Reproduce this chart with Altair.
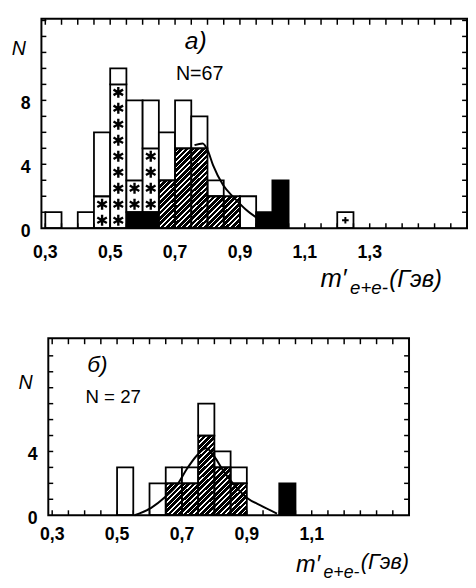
import altair as alt
import pandas as pd

BIN_WIDTH = 0.05
FONT = "Liberation Sans"

# ---------------- panel a) ----------------
A_BINS    = [0.30, 0.35, 0.40, 0.45, 0.50, 0.55, 0.60, 0.65, 0.70, 0.75,
             0.80, 0.85, 0.90, 0.95, 1.00, 1.05, 1.10, 1.15, 1.20]
A_SOLID   = [0, 0, 0, 0, 0, 1, 1, 0, 0, 0, 0, 0, 0, 1, 3, 0, 0, 0, 0]
A_HATCHED = [0, 0, 0, 0, 0, 0, 0, 3, 5, 5, 2, 2, 0, 0, 0, 0, 0, 0, 0]
A_STARS   = [0, 0, 0, 2, 9, 2, 4, 0, 0, 0, 0, 0, 0, 0, 0, 0, 0, 0, 0]
A_OPEN    = [1, 0, 1, 4, 1, 5, 3, 3, 3, 2, 1, 0, 2, 0, 0, 0, 0, 0, 0]
A_CROSS   = [0, 0, 0, 0, 0, 0, 0, 0, 0, 0, 0, 0, 0, 0, 0, 0, 0, 0, 1]
A_CURVE_X = [0.76, 0.785, 0.80, 0.817, 0.848, 0.883, 0.918, 0.954]
A_CURVE_Y = [5.2, 5.3, 4.9, 3.95, 2.7, 1.88, 1.17, 0.62]
A_XTICK_VALUES = [0.3, 0.5, 0.7, 0.9, 1.1, 1.3]
A_XTICK_LABELS = ["0,3", "0,5", "0,7", "0,9", "1,1", "1,3"]
A_YTICK_VALUES = [0, 4, 8]
A_YTICK_LABELS = ["0", "4", "8"]
A_MINOR_X = [0.30, 0.35, 0.40, 0.45, 0.50, 0.55, 0.60, 0.65, 0.70, 0.75, 0.80, 0.85, 0.90,
             0.95, 1.00, 1.05, 1.10, 1.15, 1.20, 1.25, 1.30, 1.35, 1.40, 1.45, 1.50, 1.55]
A_MINOR_Y = [1, 2, 3, 4, 5, 6, 7, 8, 9, 10, 11, 12, 13]

# ---------------- panel б) ----------------
B_BINS    = [0.50, 0.55, 0.60, 0.65, 0.70, 0.75, 0.80, 0.85, 0.90, 0.95, 1.00]
B_SOLID   = [0, 0, 0, 0, 0, 0, 0, 0, 0, 0, 2]
B_HATCHED = [0, 0, 0, 2, 2, 5, 3, 2, 0, 0, 0]
B_STARS   = [0, 0, 0, 0, 0, 0, 0, 0, 0, 0, 0]
B_OPEN    = [3, 0, 2, 1, 1, 2, 1, 1, 0, 0, 0]
B_CROSS   = [0, 0, 0, 0, 0, 0, 0, 0, 0, 0, 0]
B_CURVE_X = [0.554, 0.604, 0.65, 0.685, 0.715, 0.746, 0.775, 0.801, 0.826, 0.857, 0.902, 0.948, 0.993]
B_CURVE_Y = [0.0, 0.45, 1.17, 1.9, 2.9, 3.75, 4.2, 3.65, 2.83, 2.0, 1.07, 0.56, 0.1]
B_XTICK_VALUES = [0.3, 0.5, 0.7, 0.9, 1.1]
B_XTICK_LABELS = ["0,3", "0,5", "0,7", "0,9", "1,1"]
B_YTICK_VALUES = [0, 4]
B_YTICK_LABELS = ["0", "4"]
B_MINOR_X = [0.30, 0.35, 0.40, 0.45, 0.50, 0.55, 0.60, 0.65, 0.70, 0.75, 0.80, 0.85, 0.90,
             0.95, 1.00, 1.05, 1.10, 1.15, 1.20, 1.25, 1.30, 1.35]
B_MINOR_Y = [1, 2, 3, 4, 5, 6, 7, 8, 9, 10]

# hatch pattern as a striped linear gradient
_stops = []
_N = 30
for i in range(_N):
    a, b, c = i / _N, (i + 0.7) / _N, (i + 1) / _N
    _stops += [alt.GradientStop(offset=a, color="#000"), alt.GradientStop(offset=b, color="#000"),
               alt.GradientStop(offset=b, color="#fff"), alt.GradientStop(offset=c, color="#fff")]
HATCH = alt.LinearGradient(gradient="linear", stops=_stops, x1=0, y1=0, x2=1, y2=1)

STAR = "M0,-1L0,1M-0.87,-0.5L0.87,0.5M-0.87,0.5L0.87,-0.5"
PLUS = "M-1,0L1,0M0,-1L0,1"


def txt(s, x, y, size, italic=False, align="center", baseline="middle", weight="normal"):
    return alt.Chart(pd.DataFrame({"t": [s]})).mark_text(
        font=FONT, fontSize=size, fontStyle="italic" if italic else "normal",
        fontWeight=weight, align=align, baseline=baseline, color="black"
    ).encode(x=alt.value(x), y=alt.value(y), text="t:N")


def panel(bins, solid, hatched, stars, open_, cross, cx, cy, xdom, ydom, xr, yr,
          xt_vals, xt_labs, yt_vals, yt_labs, minor_x, minor_y, xlab_off, annotations):
    xs = alt.Scale(domain=xdom, range=xr, nice=False, zero=False)
    ys = alt.Scale(domain=ydom, range=yr, nice=False, zero=False)
    X0, X1 = xr
    Y0, Y1 = yr
    ex = alt.X("x:Q", scale=xs, axis=None)
    ey = alt.Y("y:Q", scale=ys, axis=None)
    ex2 = alt.X2("x2")
    ey2 = alt.Y2("y2")

    rows, star_rows, cross_rows = [], [], []
    for i, b in enumerate(bins):
        base = 0
        for cat, counts in (("solid", solid), ("hatched", hatched), ("stars", stars),
                            ("open", open_), ("cross", cross)):
            c = counts[i]
            if c:
                rows.append({"x": b, "x2": round(b + BIN_WIDTH, 2), "y": base, "y2": base + c, "cat": cat})
                if cat == "stars":
                    for k in range(c):
                        star_rows.append({"x": b + BIN_WIDTH / 2, "y": base + k + 0.5})
                if cat == "cross":
                    cross_rows.append({"x": b + BIN_WIDTH / 2, "y": base + c / 2})
                base += c
    seg = pd.DataFrame(rows)
    hat = seg[seg.cat == "hatched"].sort_values("x")
    area_df = pd.concat([hat[["x", "y", "y2"]],
                         pd.DataFrame([{"x": hat.x2.iloc[-1], "y": hat.y.iloc[-1], "y2": hat.y2.iloc[-1]}])])

    layers = []
    layers.append(alt.Chart(area_df).mark_area(interpolate="step-after", fill=HATCH, strokeWidth=0)
                  .encode(x=ex, y=ey, y2=ey2))
    layers.append(alt.Chart(seg[seg.cat.isin(["open", "stars", "cross"])])
                  .mark_rect(fill="white", stroke="black", strokeWidth=1.8)
                  .encode(x=ex, x2=ex2, y=ey, y2=ey2))
    layers.append(alt.Chart(seg[seg.cat == "solid"])
                  .mark_rect(fill="black", stroke="black", strokeWidth=1.8)
                  .encode(x=ex, x2=ex2, y=ey, y2=ey2))
    layers.append(alt.Chart(hat).mark_rect(fill="white", fillOpacity=0, stroke="black", strokeWidth=1.8)
                  .encode(x=ex, x2=ex2, y=ey, y2=ey2))
    if star_rows:
        layers.append(alt.Chart(pd.DataFrame(star_rows))
                      .mark_point(shape=STAR, filled=False, stroke="black", strokeWidth=2.4, size=125, opacity=1)
                      .encode(x=ex, y=ey))
    if cross_rows:
        layers.append(alt.Chart(pd.DataFrame(cross_rows))
                      .mark_point(shape=PLUS, filled=False, stroke="black", strokeWidth=2, size=45, opacity=1)
                      .encode(x=ex, y=ey))
    layers.append(alt.Chart(pd.DataFrame({"x": cx, "y": cy}))
                  .mark_line(interpolate="monotone", color="black", strokeWidth=2)
                  .encode(x=ex, y=ey))
    # frame
    layers.append(alt.Chart(pd.DataFrame([{"x": xdom[0], "x2": xdom[1], "y": ydom[0], "y2": ydom[1]}]))
                  .mark_rect(fill="white", fillOpacity=0, stroke="black", strokeWidth=2)
                  .encode(x=ex, x2=ex2, y=ey, y2=ey2))
    # inward ticks
    mx = pd.DataFrame({"x": minor_x})
    my = pd.DataFrame({"y": minor_y})
    layers.append(alt.Chart(mx).mark_rule(color="black", strokeWidth=1.5)
                  .encode(x=ex, y=alt.value(Y0), y2=alt.value(Y0 - 5)))
    layers.append(alt.Chart(mx).mark_rule(color="black", strokeWidth=1.5)
                  .encode(x=ex, y=alt.value(Y1), y2=alt.value(Y1 + 6)))
    layers.append(alt.Chart(my).mark_rule(color="black", strokeWidth=1.5)
                  .encode(y=ey, x=alt.value(X0), x2=alt.value(X0 + 5)))
    layers.append(alt.Chart(my).mark_rule(color="black", strokeWidth=1.5)
                  .encode(y=ey, x=alt.value(X1), x2=alt.value(X1 - 5)))
    # tick labels
    layers.append(alt.Chart(pd.DataFrame({"x": xt_vals, "t": xt_labs}))
                  .mark_text(font=FONT, fontSize=18, fontWeight="bold", baseline="top", color="black")
                  .encode(x=ex, y=alt.value(Y0 + xlab_off), text="t:N"))
    layers.append(alt.Chart(pd.DataFrame({"y": yt_vals, "t": yt_labs}))
                  .mark_text(font=FONT, fontSize=18, fontWeight="bold", align="right", baseline="middle",
                             dy=4, color="black")
                  .encode(y=ey, x=alt.value(X0 - 11), text="t:N"))
    layers += annotations
    return alt.layer(*layers)


panel_a = panel(
    A_BINS, A_SOLID, A_HATCHED, A_STARS, A_OPEN, A_CROSS, A_CURVE_X, A_CURVE_Y,
    [0.288, 1.60], [0, 13.1], [34, 467], [219, 6],
    A_XTICK_VALUES, A_XTICK_LABELS, A_YTICK_VALUES, A_YTICK_LABELS, A_MINOR_X, A_MINOR_Y, 16,
    [
        txt("а)", 191, 29, 25, italic=True),
        txt("N=67", 195, 62, 20),
        txt("N", 11, 37, 20, italic=True),
        txt("m′", 318, 279, 26, italic=True, align="left", baseline="alphabetic"),
        txt("e+e-", 348, 286, 19, italic=True, align="left", baseline="alphabetic"),
        txt("(Гэв)", 388, 279, 24, italic=True, align="left", baseline="alphabetic"),
    ],
)

panel_b = panel(
    B_BINS, B_SOLID, B_HATCHED, B_STARS, B_OPEN, B_CROSS, B_CURVE_X, B_CURVE_Y,
    [0.288, 1.40], [0, 11.1], [41, 408], [511, 331],
    B_XTICK_VALUES, B_XTICK_LABELS, B_YTICK_VALUES, B_YTICK_LABELS, B_MINOR_X, B_MINOR_Y, 11,
    [
        txt("б)", 91, 358, 23, italic=True),
        txt("N = 27", 107, 391, 19),
        txt("N", 18, 377, 20, italic=True),
        txt("m′", 293, 569, 24, italic=True, align="left", baseline="alphabetic"),
        txt("e+e-", 321, 575, 18, italic=True, align="left", baseline="alphabetic"),
        txt("(Гэв)", 359, 566, 22, italic=True, align="left", baseline="alphabetic"),
    ],
)

chart = (
    alt.layer(panel_a, panel_b)
    .resolve_scale(x="independent", y="independent")
    .properties(width=468, height=580, autosize=alt.AutoSizeParams(type="none"), padding=0)
    .configure_view(stroke=None)
)

chart.save("out.html", embed_options={"renderer": "svg", "actions": False})
